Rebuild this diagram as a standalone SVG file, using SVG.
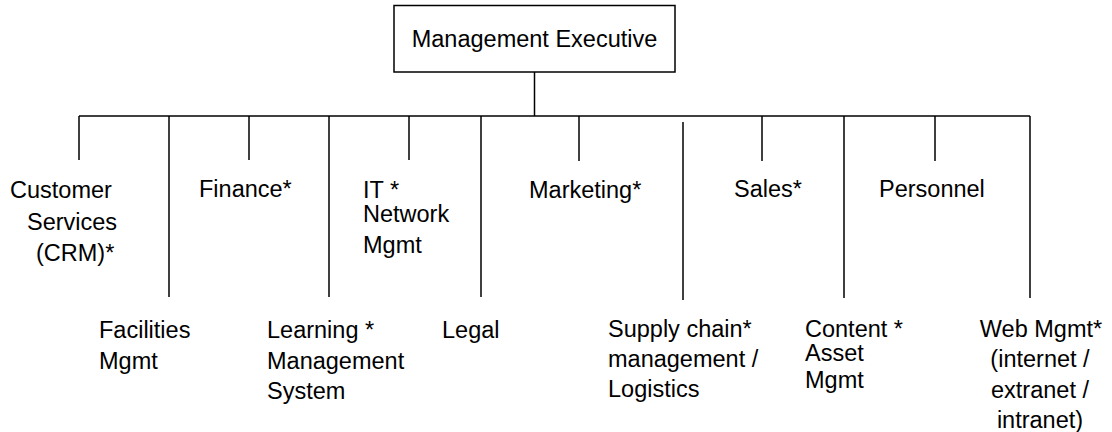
<svg xmlns="http://www.w3.org/2000/svg" width="1112" height="432" viewBox="0 0 1112 432">
<style>
text{font-family:"Liberation Sans",Arial,sans-serif;font-size:23.5px;fill:#000}
.ln{stroke:#000;stroke-width:1.5;fill:none}
.c{text-anchor:middle}
</style>
<rect x="0" y="0" width="1112" height="432" fill="#fff"/>
<g id="connectors">
<line class="ln" x1="534.5" y1="72" x2="534.5" y2="116"/>
<line class="ln" x1="79" y1="116" x2="1030" y2="116"/>
<line class="ln" x1="79" y1="116" x2="79" y2="160"/>
<line class="ln" x1="169" y1="116" x2="169" y2="297"/>
<line class="ln" x1="249" y1="116" x2="249" y2="160"/>
<line class="ln" x1="329" y1="116" x2="329" y2="297"/>
<line class="ln" x1="409" y1="116" x2="409" y2="160"/>
<line class="ln" x1="481" y1="116" x2="481" y2="297"/>
<line class="ln" x1="579" y1="116" x2="579" y2="161"/>
<line class="ln" x1="683" y1="122" x2="683" y2="300"/>
<line class="ln" x1="762" y1="116" x2="762" y2="161"/>
<line class="ln" x1="844" y1="116" x2="844" y2="298"/>
<line class="ln" x1="935" y1="116" x2="935" y2="161"/>
<line class="ln" x1="1030" y1="116" x2="1030" y2="298"/>
</g>
<g id="management-executive">
<rect class="ln" x="394" y="5.5" width="281" height="66.5"/>
<text class="c" x="534.5" y="47">Management Executive</text>
</g>
<g id="customer-services">
<text x="10" y="198">Customer</text>
<text x="27" y="230">Services</text>
<text x="36" y="261">(CRM)*</text>
</g>
<g id="facilities"><text x="99" y="338">Facilities</text><text x="99" y="369">Mgmt</text></g>
<g id="finance"><text x="199" y="197">Finance*</text></g>
<g id="learning"><text x="267" y="338">Learning *</text><text x="267" y="369">Management</text><text x="267" y="399">System</text></g>
<g id="it"><text x="363" y="198">IT *</text><text x="363" y="222">Network</text><text x="363" y="253">Mgmt</text></g>
<g id="legal"><text x="442" y="338">Legal</text></g>
<g id="marketing"><text x="529" y="198">Marketing*</text></g>
<g id="supply-chain"><text x="608" y="337">Supply chain*</text><text x="608" y="367">management /</text><text x="608" y="397">Logistics</text></g>
<g id="sales"><text x="734" y="197">Sales*</text></g>
<g id="content"><text x="805" y="337">Content *</text><text x="805" y="361">Asset</text><text x="805" y="388">Mgmt</text></g>
<g id="personnel"><text x="879" y="197">Personnel</text></g>
<g id="web-mgmt"><text class="c" x="1041" y="337">Web Mgmt*</text><text class="c" x="1040" y="367">(internet /</text><text class="c" x="1040" y="398">extranet /</text><text class="c" x="1040" y="428">intranet)</text></g>
</svg>
